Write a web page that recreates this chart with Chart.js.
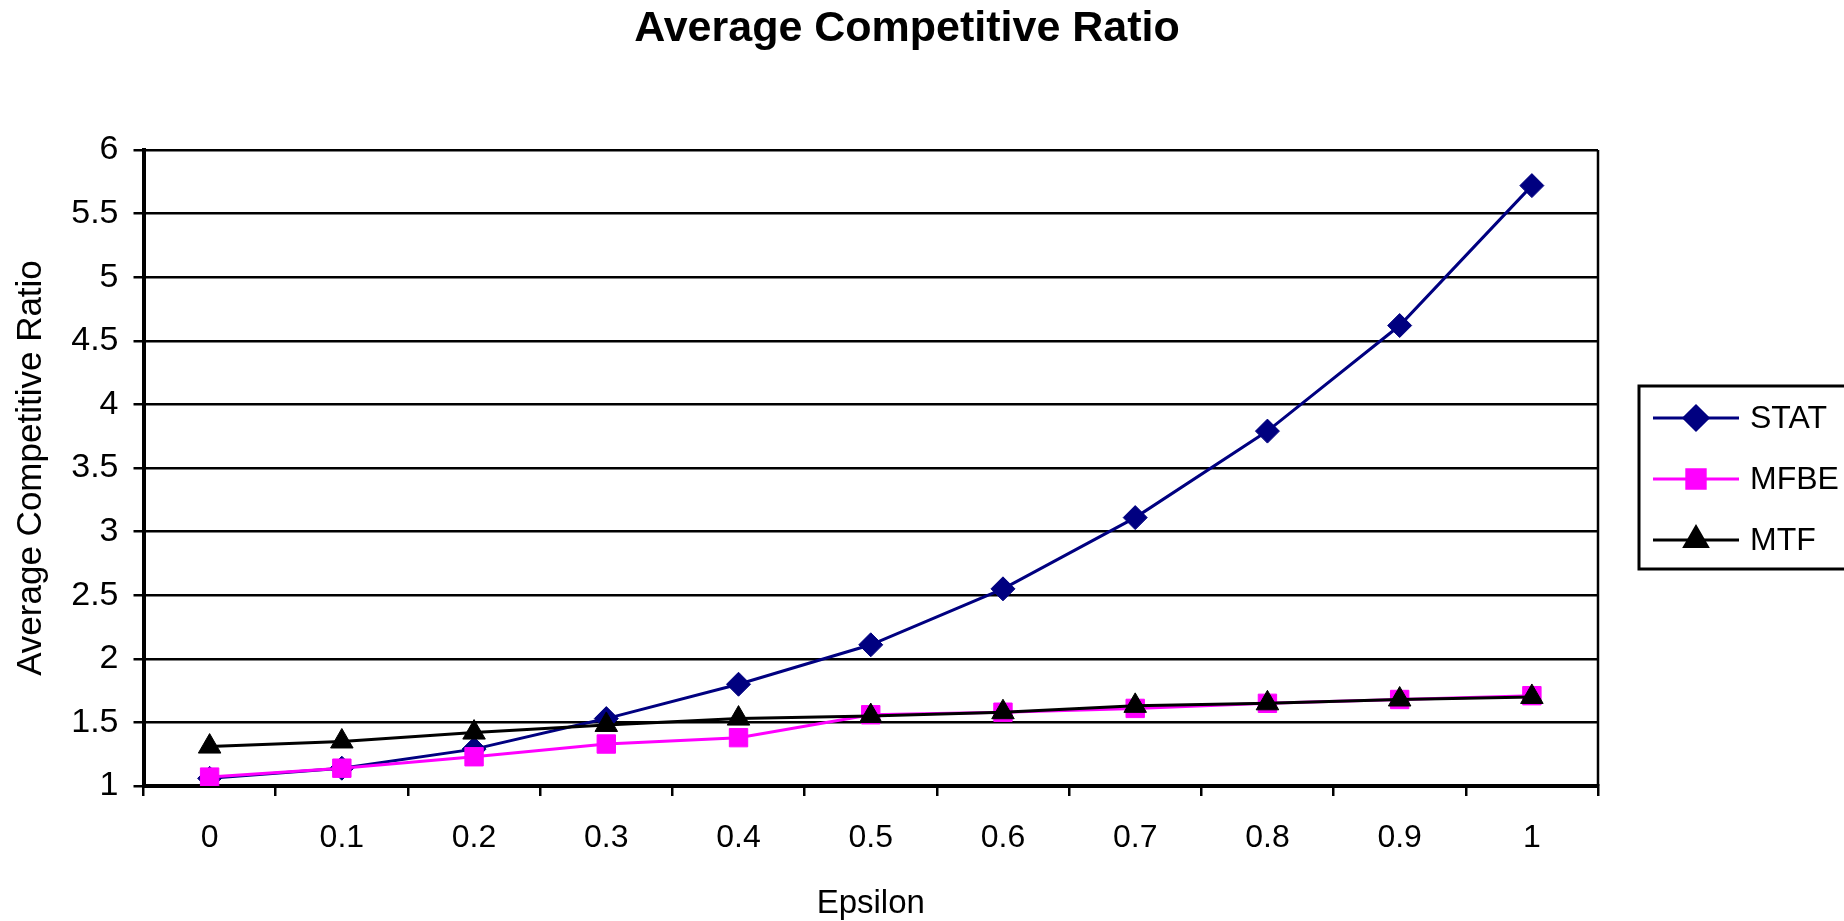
<!DOCTYPE html>
<html>
<head>
<meta charset="utf-8">
<title>Average Competitive Ratio</title>
<script src="https://cdn.jsdelivr.net/npm/chart.js@4/dist/chart.umd.min.js"></script>
<style>
  html, body { margin: 0; padding: 0; background: #ffffff; }
  #wrap { width: 1844px; height: 921px; }
</style>
</head>
<body>
<div id="wrap"><canvas id="c" width="1844" height="921"></canvas></div>
<script>
// Categories (epsilon values)
const epsilon = ['0', '0.1', '0.2', '0.3', '0.4', '0.5', '0.6', '0.7', '0.8', '0.9', '1'];

// Average competitive ratio per algorithm
const stat = [1.06, 1.14, 1.29, 1.53, 1.80, 2.11, 2.55, 3.11, 3.79, 4.62, 5.72];
const mfbe = [1.07, 1.14, 1.23, 1.33, 1.38, 1.56, 1.58, 1.61, 1.65, 1.68, 1.71];
const mtf  = [1.31, 1.35, 1.42, 1.48, 1.53, 1.55, 1.58, 1.63, 1.65, 1.68, 1.70];

// Value-axis tick labels
const yTicks = [1, 1.5, 2, 2.5, 3, 3.5, 4, 4.5, 5, 5.5, 6];

const seriesNames = ['STAT', 'MFBE', 'MTF'];
const chartTitle = 'Average Competitive Ratio';
const xTitle = 'Epsilon';
const yTitle = 'Average Competitive Ratio';

const FONT = "Arial, 'Liberation Sans', Helvetica, sans-serif";

// Plot frame, title and boxed legend (line + marker samples)
const decorations = {
  id: 'decorations',
  afterDraw(chart) {
    const { ctx, chartArea: a } = chart;
    ctx.save();

    // right edge of plot frame
    ctx.strokeStyle = '#000';
    ctx.lineWidth = 2.5;
    ctx.beginPath();
    ctx.moveTo(a.right, a.top);
    ctx.lineTo(a.right, a.bottom);
    ctx.stroke();

    // chart title
    ctx.fillStyle = '#000';
    ctx.font = 'bold 43px ' + FONT;
    ctx.textAlign = 'center';
    ctx.textBaseline = 'middle';
    ctx.fillText(chartTitle, 907, 29);

    // legend box
    const bx = 1639, by = 386, bh = 183;
    ctx.lineWidth = 3;
    ctx.strokeRect(bx, by, chart.width - bx + 4, bh);

    const rowY0 = 418, rowGap = 61;
    ctx.font = '32px ' + FONT;
    ctx.textAlign = 'left';
    chart.data.datasets.forEach((ds, i) => {
      const y = rowY0 + i * rowGap;
      ctx.strokeStyle = ds.borderColor;
      ctx.lineWidth = ds.borderWidth;
      ctx.beginPath();
      ctx.moveTo(1653, y);
      ctx.lineTo(1739, y);
      ctx.stroke();
      ctx.fillStyle = ds.pointBackgroundColor;
      ctx.strokeStyle = ds.pointBorderColor;
      Chart.helpers.drawPoint(ctx, {
        pointStyle: ds.pointStyle,
        radius: ds.pointRadius,
        rotation: 0,
        borderWidth: ds.pointBorderWidth
      }, 1696, y);
      ctx.fillStyle = '#000';
      ctx.fillText(ds.label, 1750, y + 1);
    });

    ctx.restore();
  }
};

new Chart(document.getElementById('c'), {
  type: 'line',
  data: {
    labels: epsilon,
    datasets: [
      {
        label: seriesNames[0], data: stat, order: 3,
        borderColor: '#000080', borderWidth: 3,
        pointStyle: 'rectRot', pointRadius: 12,
        pointBackgroundColor: '#000080', pointBorderColor: '#000080', pointBorderWidth: 1,
        tension: 0
      },
      {
        label: seriesNames[1], data: mfbe, order: 2,
        borderColor: '#ff00ff', borderWidth: 3,
        pointStyle: 'rect', pointRadius: 13,
        pointBackgroundColor: '#ff00ff', pointBorderColor: '#ff00ff', pointBorderWidth: 1,
        tension: 0
      },
      {
        label: seriesNames[2], data: mtf, order: 1,
        borderColor: '#000000', borderWidth: 3,
        pointStyle: 'triangle', pointRadius: 13,
        pointBackgroundColor: '#000000', pointBorderColor: '#000000', pointBorderWidth: 1,
        tension: 0
      }
    ]
  },
  options: {
    responsive: false,
    animation: false,
    devicePixelRatio: 1,
    layout: { padding: { top: 150, right: 246, bottom: 0, left: 0 } },
    plugins: {
      legend: { display: false },
      title: { display: false },
      tooltip: { enabled: false }
    },
    scales: {
      x: {
        type: 'category',
        offset: true,
        afterFit(scale) { scale.height = 135; },
        grid: {
          offset: true, drawOnChartArea: false, drawTicks: true,
          tickLength: 10, color: '#000', lineWidth: 2.5
        },
        border: { color: '#000', width: 4 },
        ticks: {
          color: '#000', font: { family: FONT, size: 32 },
          padding: 23, maxRotation: 0, autoSkip: false
        },
        title: {
          display: true, text: xTitle, color: '#000',
          font: { family: FONT, size: 33, lineHeight: 1 },
          padding: { top: 0, bottom: 1 }
        }
      },
      y: {
        type: 'linear',
        min: 1, max: 6,
        afterFit(scale) { scale.width = 143.5; },
        afterBuildTicks(scale) { scale.ticks = yTicks.map(v => ({ value: v })); },
        grid: { color: '#000', lineWidth: 2.5, tickLength: 10, drawTicks: true },
        border: { color: '#000', width: 4 },
        ticks: {
          color: '#000', font: { family: FONT, size: 34 }, padding: 15,
          callback: v => String(v)
        },
        title: {
          display: true, text: yTitle, color: '#000',
          font: { family: FONT, size: 35 },
          padding: { top: 10, bottom: 0 }
        }
      }
    }
  },
  plugins: [decorations]
});
</script>
</body>
</html>
